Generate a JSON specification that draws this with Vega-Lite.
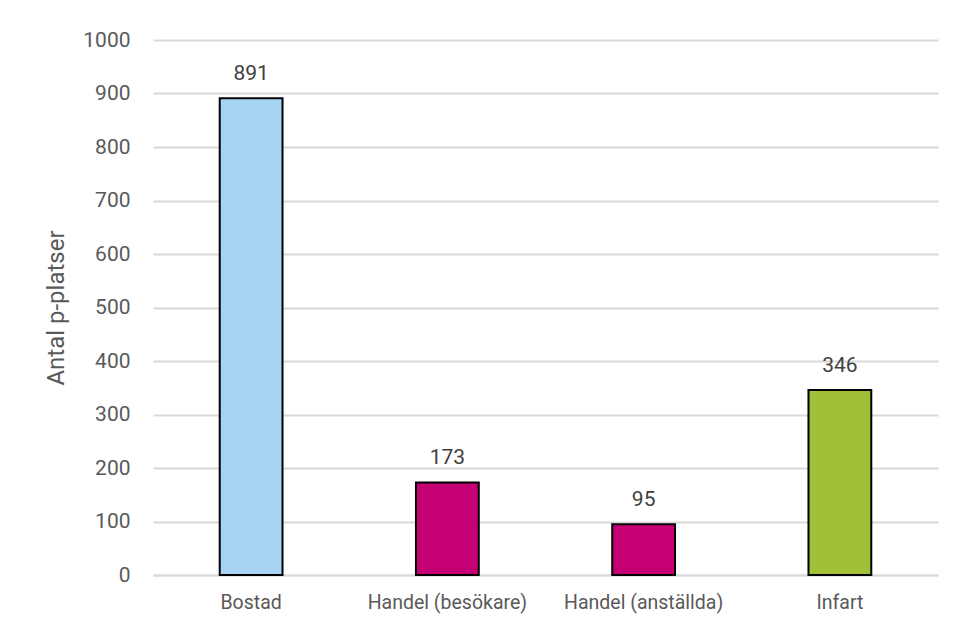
{
  "$schema": "https://vega.github.io/schema/vega-lite/v6.json",
  "autosize": {"type": "none"},
  "width": 785,
  "height": 535,
  "padding": {"left": 153, "top": 40, "right": 18, "bottom": 54},
  "background": "white",
  "config": {
    "view": {"stroke": null},
    "font": "Roboto",
    "axis": {"labelFont": "Roboto", "titleFont": "Roboto", "labelColor": "#595959", "titleColor": "#595959"}
  },
  "data": {
    "values": [
      {"kategori": "Bostad", "antal": 891, "grupp": "Bostad"},
      {"kategori": "Handel (besökare)", "antal": 173, "grupp": "Handel"},
      {"kategori": "Handel (anställda)", "antal": 95, "grupp": "Handel"},
      {"kategori": "Infart", "antal": 346, "grupp": "Infart"}
    ]
  },
  "encoding": {
    "x": {
      "field": "kategori",
      "type": "nominal",
      "sort": null,
      "scale": {"paddingInner": 0.68, "paddingOuter": 0.34},
      "axis": {"title": null, "labelAngle": 0, "labelFontSize": 19.5, "labelFontWeight": "normal", "labelPadding": 18, "ticks": false, "domainColor": "#d9d9d9", "domainWidth": 2}
    },
    "y": {
      "field": "antal",
      "type": "quantitative",
      "scale": {"domain": [0, 1000]},
      "axis": {"title": "Antal p-platser", "titleFontSize": 24, "titleFontWeight": "normal", "titlePadding": 14, "format": "d", "values": [0,100,200,300,400,500,600,700,800,900,1000], "labelFontSize": 21, "labelFontWeight": "normal", "labelPadding": 23, "ticks": false, "domain": false, "gridColor": "#d9d9d9", "gridWidth": 2, "gridOpacity": 1}
    }
  },
  "layer": [
    {
      "mark": {"type": "bar", "stroke": "black", "strokeWidth": 2},
      "encoding": {
        "color": {
          "field": "grupp",
          "type": "nominal",
          "scale": {"domain": ["Bostad", "Handel", "Infart"], "range": ["#A8D4F3", "#C50075", "#A1BF37"]},
          "legend": null
        }
      }
    },
    {
      "mark": {"type": "text", "baseline": "alphabetic", "dy": -18, "fontSize": 21, "fontWeight": "normal", "color": "#404040"},
      "encoding": {"text": {"field": "antal", "type": "quantitative"}}
    }
  ]
}
